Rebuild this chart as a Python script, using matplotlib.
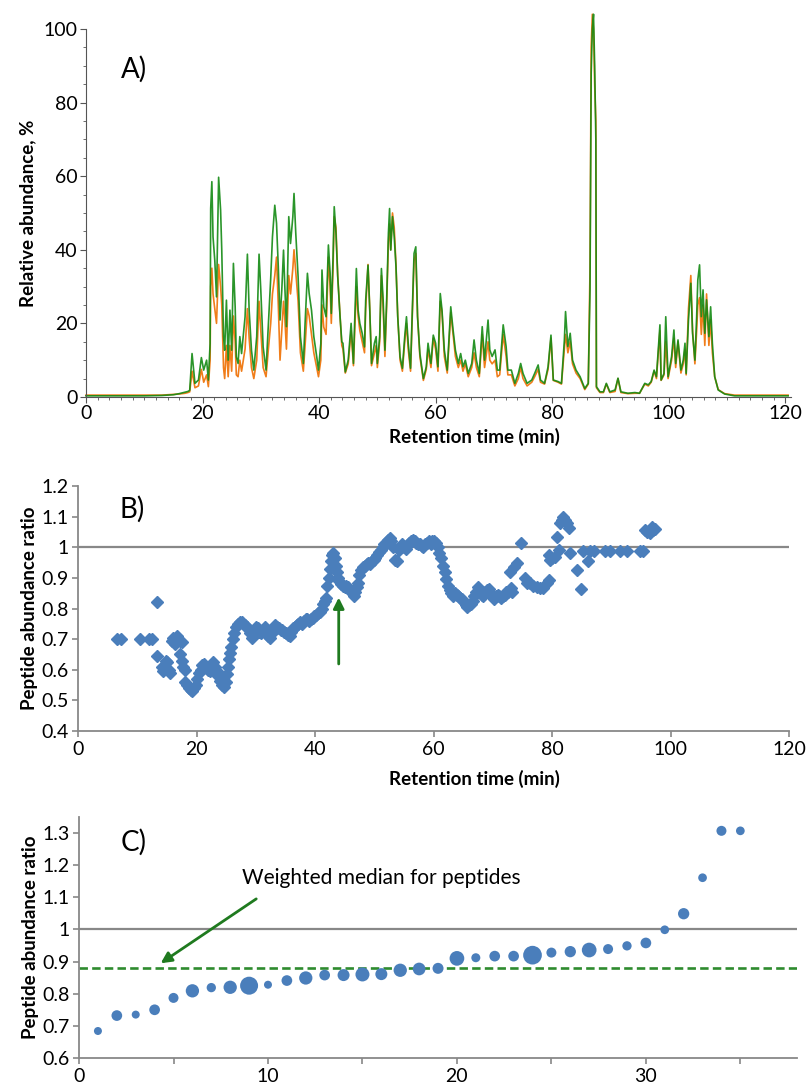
import matplotlib
matplotlib.use('Agg')
import matplotlib.pyplot as plt
from matplotlib.ticker import MultipleLocator, FuncFormatter

plt.rcParams['font.family'] = ['Lato', 'DejaVu Sans']

# A) chromatogram: retention time (min), relative abundance (%) for two runs
a_time = [0, 5, 10, 13, 15, 16, 17, 17.5, 17.8, 18.2, 18.7, 19.3, 19.8, 20.2, 20.7, 21.0, 21.3, 21.4, 21.6, 21.8,
          22.1, 22.4, 22.76, 23.1, 23.3, 23.6, 23.8, 24.1, 24.4, 24.7, 25.0, 25.3, 25.6, 25.8, 26.1, 26.4, 26.7,
          27.3, 27.7, 28.0, 28.4, 28.8, 29.3, 29.7, 30.0, 30.4, 30.9, 31.3, 31.7, 32.0, 32.4, 32.7, 33.0, 33.3,
          33.6, 33.9, 34.1, 34.4, 34.8, 35.1, 35.5, 35.7, 36.0, 36.4, 36.8, 37.3, 37.6, 38.0, 38.3, 38.7, 39.1,
          39.6, 39.9, 40.3, 40.5, 40.8, 41.2, 41.6, 41.9, 42.1, 42.4, 42.6, 42.9, 43.2, 43.6, 43.9, 44.1, 44.5,
          45.0, 45.5, 45.9, 46.1, 46.4, 46.7, 47.0, 47.4, 47.8, 48.0, 48.4, 48.7, 49.0, 49.5, 49.8, 50.0, 50.4,
          50.7, 51.0, 51.3, 51.6, 51.9, 52.1, 52.3, 52.6, 52.9, 53.2, 53.5, 53.9, 54.3, 54.7, 55.0, 55.3, 55.7,
          56.0, 56.3, 56.6, 56.9, 57.3, 57.9, 58.4, 58.7, 59.2, 59.6, 60.0, 60.4, 60.8, 61.1, 61.5, 62.0, 62.6,
          63.0, 63.4, 63.9, 64.3, 64.7, 65.1, 65.6, 66.2, 66.6, 67.0, 67.5, 68.0, 68.4, 69.0, 69.3, 69.7, 70.2,
          70.6, 71.0, 71.6, 72.1, 72.4, 73.0, 73.6, 74.2, 74.6, 75.0, 75.7, 76.5, 77.0, 77.6, 78.0, 78.7, 79.3,
          79.8, 80.2, 81.0, 81.6, 82.1, 82.3, 82.7, 83.1, 83.5, 84.1, 84.8, 85.6, 86.2, 86.5, 86.7, 86.9, 87.1,
          87.3, 87.5, 87.6, 88.2, 88.8, 89.3, 89.9, 90.8, 91.3, 91.8, 93.0, 94.2, 95.0, 95.9, 96.5, 97.0, 97.5,
          97.9, 98.5, 98.7, 99.2, 99.5, 99.9, 100.5, 100.9, 101.2, 101.6, 102.1, 102.5, 102.8, 103.0, 103.4,
          103.8, 104.1, 104.5, 104.8, 105.0, 105.3, 105.6, 105.9, 106.2, 106.5, 106.9, 107.2, 107.5, 107.9,
          108.5, 109.6, 111.3, 115, 120.5]
a_green = [0.3, 0.3, 0.3, 0.4, 0.6, 0.9, 1.3, 1.5, 1.8, 11.8, 3.7, 4.6, 10.7, 7.3, 10.0, 4.6, 14.5, 51.2, 58.5, 43.5,
           37.2, 27.2, 59.7, 50.8, 39.9, 16.4, 12.7, 26.3, 10.0, 23.6, 12.7, 36.3, 24.5, 10.9, 9.1, 16.4, 11.8,
           21.8, 38.8, 23.6, 12.7, 7.3, 16.4, 38.8, 29.0, 13.6, 7.3, 20.0, 32.2, 43.5, 52.1, 47.2, 35.4, 20.9,
           29.0, 39.9, 30.9, 19.1, 49.0, 41.7, 49.0, 55.3, 44.5, 32.7, 16.4, 9.1, 20.0, 33.6, 28.1, 23.6, 16.4,
           10.9, 7.3, 14.5, 34.5, 24.5, 21.8, 41.3, 33.6, 22.7, 38.1, 51.7, 44.5, 32.7, 21.8, 15.0, 14.6, 6.8,
           10.0, 20.0, 9.1, 20.0, 34.9, 23.6, 20.0, 17.3, 13.6, 26.3, 35.8, 23.6, 9.1, 14.6, 16.4, 9.1, 16.4,
           34.9, 26.3, 12.7, 26.3, 44.5, 51.2, 39.9, 49.0, 43.5, 35.4, 21.8, 10.9, 7.8, 16.4, 21.8, 14.6, 7.8,
           23.6, 39.0, 40.8, 21.8, 11.8, 5.0, 8.2, 14.6, 9.1, 16.8, 14.6, 8.2, 28.1, 23.6, 12.7, 7.3, 24.5,
           18.2, 12.7, 9.1, 11.8, 8.2, 10.0, 6.4, 9.1, 15.5, 10.0, 6.4, 19.1, 10.0, 20.9, 12.8, 11.0, 12.8,
           7.3, 7.3, 19.6, 13.7, 7.3, 7.3, 3.7, 6.4, 9.1, 6.4, 3.7, 4.6, 6.4, 8.7, 4.6, 3.7, 8.2,
           16.8, 4.6, 4.2, 3.7, 15.5, 23.2, 13.7, 17.3, 10.0, 7.3, 5.5, 2.3, 3.7, 29.0, 88.0, 100.0, 104.0,
           90.0, 70.0, 2.8, 1.4, 1.4, 3.7, 1.4, 1.9, 5.1, 1.4, 1.0, 1.2, 1.0, 3.7, 3.3, 4.2, 7.3,
           5.5, 19.6, 4.6, 6.4, 21.8, 5.5, 11.0, 18.2, 9.1, 15.5, 7.3, 10.0, 14.6, 6.4, 20.9,
           30.9, 17.3, 10.0, 21.8, 31.8, 35.9, 21.8, 29.1, 17.3, 26.4, 16.4, 24.5, 14.6, 5.5,
           1.9, 0.8, 0.3, 0.3, 0.3]
a_orange = [0.5, 0.5, 0.5, 0.5, 0.7, 0.8, 1.0, 1.2, 1.4, 7.0, 2.5, 3.0, 7.5, 4.0, 6.0, 2.8, 10.0, 30.0, 35.0, 28.0,
            24.0, 20.0, 36.0, 30.0, 25.0, 8.0, 5.0, 14.0, 5.5, 14.0, 7.0, 22.0, 15.0, 6.0, 5.5, 10.0, 7.0,
            13.0, 24.0, 16.0, 8.0, 5.0, 10.0, 26.0, 18.0, 8.0, 5.5, 13.0, 20.0, 28.0, 33.0, 38.0, 25.0, 10.0,
            18.0, 26.0, 22.0, 13.0, 33.0, 28.0, 35.0, 40.0, 34.0, 26.0, 12.0, 7.0, 14.0, 24.0, 22.0, 17.0, 12.0,
            8.0, 5.5, 10.0, 25.0, 19.0, 17.0, 38.0, 30.0, 20.0, 35.0, 49.0, 46.0, 33.0, 22.0, 14.0, 13.0, 6.5,
            9.0, 18.0, 8.5, 17.0, 30.0, 22.0, 18.0, 15.0, 12.0, 24.0, 36.0, 24.0, 8.5, 12.0, 14.0, 8.0, 15.0,
            33.0, 24.0, 11.0, 25.0, 42.0, 47.0, 40.0, 50.0, 46.0, 36.0, 22.0, 10.0, 7.0, 15.0, 20.0, 13.0, 7.0,
            22.0, 37.0, 39.0, 22.0, 11.0, 4.5, 7.5, 13.0, 8.0, 16.0, 13.0, 7.0, 26.0, 23.0, 11.0, 6.5, 23.0,
            17.0, 11.0, 8.0, 10.0, 7.0, 9.0, 5.5, 8.0, 12.0, 8.0, 5.5, 17.0, 8.0, 15.0, 10.0, 9.0, 10.0,
            5.5, 6.0, 17.0, 11.0, 6.0, 6.0, 3.0, 5.0, 8.0, 5.0, 3.0, 4.0, 5.5, 7.5, 4.0, 3.5, 7.5,
            16.0, 4.5, 4.0, 3.5, 13.0, 17.0, 12.0, 15.0, 9.0, 6.5, 5.0, 2.0, 3.5, 35.0, 95.0, 104.0, 100.0,
            85.0, 75.0, 2.5, 1.2, 1.2, 3.5, 1.2, 1.5, 5.0, 1.2, 0.9, 1.0, 1.0, 3.5, 3.0, 4.0, 7.0,
            5.0, 18.0, 4.5, 6.0, 15.0, 5.0, 10.0, 16.0, 8.0, 15.0, 6.5, 9.0, 13.0, 6.0, 24.0,
            33.0, 18.0, 9.0, 18.0, 25.0, 27.0, 17.0, 25.0, 14.0, 28.0, 14.0, 21.0, 12.0, 5.5,
            2.0, 0.9, 0.5, 0.5, 0.5]

# B) peptide abundance ratio vs retention time
b_time = [6.5, 7.3, 10.5, 12.0, 12.5, 13.3, 13.3, 14.1, 14.4, 14.8, 15.0, 15.3, 15.6, 15.8, 16.1, 16.4, 16.7,
          16.9, 17.2, 17.5, 17.2, 17.5, 17.8, 18.1, 18.1, 18.4, 18.7, 19.0, 19.3, 19.6, 19.9, 20.1, 20.4, 20.7,
          21.0, 21.3, 21.6, 21.9, 22.2, 22.5, 22.8, 23.1, 23.4, 23.7, 24.0, 24.3, 24.6, 24.9, 25.1, 25.3, 25.5,
          25.7, 25.9, 26.1, 26.4, 26.7, 27.0, 27.3, 27.6, 27.9, 28.2, 28.5, 28.8, 29.1, 29.4, 29.7, 30.0, 30.3,
          30.6, 30.9, 31.2, 31.5, 31.8, 32.1, 32.4, 32.7, 33.0, 33.3, 33.6, 33.9, 34.2, 34.5, 34.8, 35.1, 35.4,
          35.7, 36.0, 36.3, 36.6, 36.9, 37.2, 37.5, 37.8, 38.1, 38.4, 38.7, 39.0, 39.3, 39.6, 39.9, 40.2, 40.5,
          40.8, 41.1, 41.4, 41.7, 41.9, 42.0, 42.3, 42.5, 42.7, 42.9, 43.1, 43.3, 43.5, 43.7, 43.9, 44.1, 44.4,
          44.7, 45.0, 45.3, 45.6, 45.9, 46.2, 46.5, 46.8, 47.0, 47.2, 47.5, 47.8, 48.1, 48.4, 48.7, 49.0, 49.3,
          49.6, 49.9, 50.2, 50.5, 50.8, 51.1, 51.4, 51.7, 52.0, 52.3, 52.6, 52.9, 53.2, 53.5, 53.8, 54.1, 54.4,
          54.7, 55.0, 55.3, 55.6, 55.9, 56.2, 56.5, 56.8, 57.1, 57.4, 57.7, 58.0, 58.3, 58.6, 58.9, 59.2, 59.5,
          59.8, 60.1, 60.4, 60.7, 61.0, 61.3, 61.6, 61.9, 62.1, 62.4, 62.7, 63.0, 63.3, 63.6, 63.9, 64.2, 64.5,
          64.8, 65.1, 65.4, 65.7, 66.0, 66.3, 66.6, 66.9, 67.2, 67.5, 67.8, 68.1, 68.4, 68.7, 69.0, 69.3, 69.6,
          69.9, 70.2, 70.5, 70.8, 71.1, 71.4, 71.7, 72.0, 72.3, 72.6, 73.0, 73.3, 72.9, 73.5, 74.0, 74.8, 75.4,
          75.8, 76.3, 76.8, 77.4, 77.9, 78.5, 79.1, 79.4, 79.4, 79.7, 80.0, 80.5, 80.8, 81.1, 81.4, 81.7, 81.9,
          82.2, 82.5, 82.8, 83.0, 84.2, 84.8, 85.3, 86.0, 86.4, 87.1, 88.9, 89.8, 91.5, 92.6, 94.9, 95.4, 95.7,
          96.1, 96.5, 96.8, 97.1, 97.4]
b_ratio = [0.70, 0.70, 0.70, 0.70, 0.70, 0.82, 0.645, 0.61, 0.595, 0.63, 0.625, 0.60, 0.59, 0.695, 0.705, 0.685,
           0.71, 0.70, 0.695, 0.69, 0.65, 0.63, 0.61, 0.60, 0.56, 0.55, 0.54, 0.535, 0.53, 0.54, 0.55, 0.57,
           0.59, 0.60, 0.615, 0.62, 0.61, 0.60, 0.595, 0.61, 0.625, 0.61, 0.595, 0.58, 0.565, 0.55, 0.545, 0.56,
           0.585, 0.61, 0.635, 0.655, 0.675, 0.70, 0.72, 0.74, 0.75, 0.755, 0.755, 0.75, 0.745, 0.74, 0.73, 0.72,
           0.705, 0.72, 0.74, 0.735, 0.725, 0.72, 0.73, 0.74, 0.725, 0.71, 0.705, 0.72, 0.735, 0.745, 0.74, 0.735,
           0.73, 0.73, 0.725, 0.72, 0.715, 0.71, 0.725, 0.735, 0.74, 0.745, 0.75, 0.755, 0.75, 0.76, 0.765, 0.765,
           0.76, 0.765, 0.77, 0.775, 0.78, 0.785, 0.79, 0.80, 0.815, 0.825, 0.835, 0.875, 0.90, 0.93, 0.955, 0.975,
           0.98, 0.965, 0.94, 0.92, 0.90, 0.89, 0.88, 0.875, 0.87, 0.875, 0.87, 0.86, 0.85, 0.84, 0.855, 0.87,
           0.885, 0.91, 0.925, 0.935, 0.94, 0.945, 0.95, 0.945, 0.955, 0.96, 0.965, 0.975, 0.985, 0.99, 1.00,
           1.01, 1.015, 1.025, 1.03, 1.02, 1.00, 0.96, 0.955, 0.99, 1.00, 1.01, 1.00, 0.995, 1.005, 1.015, 1.02,
           1.025, 1.02, 1.015, 1.01, 1.01, 1.005, 1.00, 1.01, 1.015, 1.02, 1.01, 1.02, 1.02, 1.015, 1.00, 0.98,
           0.965, 0.94, 0.92, 0.895, 0.875, 0.86, 0.85, 0.84, 0.85, 0.845, 0.84, 0.835, 0.83, 0.82, 0.81, 0.805,
           0.81, 0.815, 0.825, 0.84, 0.855, 0.87, 0.86, 0.845, 0.84, 0.855, 0.86, 0.865, 0.85, 0.84, 0.83, 0.84,
           0.845, 0.84, 0.835, 0.84, 0.845, 0.855, 0.855, 0.866, 0.855, 0.92, 0.937, 0.948, 1.015, 0.90, 0.885,
           0.882, 0.875, 0.871, 0.868, 0.866, 0.885, 0.893, 0.975, 0.96, 0.964, 0.969, 1.035, 0.991, 1.078, 1.09,
           1.10, 1.09, 1.078, 1.062, 0.983, 0.926, 0.865, 0.989, 0.956, 0.989, 0.989, 0.989, 0.989, 0.989, 0.989,
           0.989, 0.989, 1.056, 1.05, 1.046, 1.067, 1.055, 1.059]

# C) sorted peptide ratios with relative weights (marker size)
c_rank = list(range(1, 36))
c_ratio = [0.684, 0.732, 0.735, 0.750, 0.787, 0.809, 0.819, 0.820, 0.825, 0.828, 0.841, 0.849, 0.858, 0.858, 0.860,
           0.861, 0.873, 0.877, 0.879, 0.910, 0.912, 0.917, 0.917, 0.920, 0.928, 0.931, 0.936, 0.939, 0.949, 0.958,
           0.999, 1.049, 1.161, 1.307, 1.307]
c_weight = [8, 10.7, 8, 10.7, 10, 13.3, 9.3, 13.3, 18, 8, 10.7, 13.3, 10.7, 12, 14,
            12, 13.3, 12.7, 11, 14.7, 9, 10.7, 10.7, 18.7, 10, 11.3, 14.7, 10, 9.3, 10.7,
            8.7, 11.3, 8.7, 10, 8.7]
c_median = 0.879

blue = '#4A7EBB'
green = '#1F7A1F'
grey = '#888888'
tick_fs = 14
lab_fs = 13.5

fig = plt.figure(figsize=(8.09, 10.84), dpi=100)

# ---- A ----
ax = fig.add_axes([0.1063, 0.6338, 0.8715, 0.3395])
ax.plot(a_time, a_orange, color='#F07D1A', lw=1.2, clip_on=False)
ax.plot(a_time, a_green, color='#138A13', lw=1.2, alpha=0.9, clip_on=False)
ax.set_xlim(0, 121)
ax.set_ylim(0, 100)
ax.xaxis.set_major_locator(MultipleLocator(20))
ax.xaxis.set_minor_locator(MultipleLocator(2))
ax.yaxis.set_major_locator(MultipleLocator(20))
ax.yaxis.set_minor_locator(MultipleLocator(5))
for s in ['top', 'right']:
    ax.spines[s].set_visible(False)
for s in ['left', 'bottom']:
    ax.spines[s].set_color('#555555')
ax.tick_params(which='major', length=4, color='#555555', labelsize=tick_fs, pad=2)
ax.tick_params(which='minor', length=2.5, color='#555555')
ax.set_xlabel('Retention time (min)', fontsize=lab_fs, fontweight='bold')
ax.xaxis.set_label_coords(0.551, -0.085)
ax.set_ylabel('Relative abundance, %', fontsize=lab_fs, fontweight='bold', labelpad=5)
ax.text(6, 89, 'A)', fontsize=20, va='center')

fmt = FuncFormatter(lambda v, p: '%g' % round(v, 2))

# ---- B ----
bx = fig.add_axes([0.0964, 0.3256, 0.879, 0.226])
bx.axhline(1.0, color=grey, lw=1.6, zorder=1)
bx.plot(b_time, b_ratio, linestyle='none', marker='D', ms=6.5, color=blue, mec=blue, zorder=2)
bx.annotate('', xy=(44, 0.845), xytext=(44, 0.61),
            arrowprops=dict(arrowstyle='-|>', color=green, lw=2, mutation_scale=16))
bx.set_xlim(0, 120)
bx.set_ylim(0.4, 1.2)
bx.xaxis.set_major_locator(MultipleLocator(20))
bx.yaxis.set_major_locator(MultipleLocator(0.1))
bx.yaxis.set_major_formatter(fmt)
for s in ['top', 'right']:
    bx.spines[s].set_visible(False)
for s in ['left', 'bottom']:
    bx.spines[s].set_color(grey)
    bx.spines[s].set_linewidth(1.3)
bx.tick_params(length=4, color=grey, width=1.2, labelsize=tick_fs, pad=3)
bx.set_xlabel('Retention time (min)', fontsize=lab_fs, fontweight='bold')
bx.xaxis.set_label_coords(0.558, -0.16)
bx.set_ylabel('Peptide abundance ratio', fontsize=lab_fs, fontweight='bold', labelpad=2)
bx.text(7.0, 1.125, 'B)', fontsize=20, va='center')

# ---- C ----
cx = fig.add_axes([0.0977, 0.024, 0.8875, 0.2223])
cx.axhline(1.0, color=grey, lw=1.6, zorder=1)
cx.axhline(c_median, color='#2E8B2E', lw=1.9, dashes=(3.2, 1.6), zorder=1)
cx.scatter(c_rank, c_ratio, s=[(w * 0.72) ** 2 for w in c_weight], color=blue, lw=0, zorder=3)
cx.annotate('', xy=(4.2, 0.89), xytext=(9.5, 1.1),
            arrowprops=dict(arrowstyle='-|>', color=green, lw=2, mutation_scale=16))
cx.text(8.6, 1.16, 'Weighted median for peptides', fontsize=15, va='center')
cx.text(2.2, 1.27, 'C)', fontsize=20, va='center')
cx.set_xlim(0, 38)
cx.set_ylim(0.6, 1.35)
cx.xaxis.set_major_locator(MultipleLocator(10))
cx.xaxis.set_minor_locator(MultipleLocator(5))
cx.yaxis.set_major_locator(MultipleLocator(0.1))
cx.yaxis.set_major_formatter(fmt)
for s in ['top', 'right']:
    cx.spines[s].set_visible(False)
for s in ['left', 'bottom']:
    cx.spines[s].set_color(grey)
    cx.spines[s].set_linewidth(1.3)
cx.tick_params(which='both', length=4, color=grey, width=1.2, labelsize=tick_fs, pad=3)
cx.set_ylabel('Peptide abundance ratio', fontsize=lab_fs, fontweight='bold', labelpad=2)

fig.savefig('out.png', dpi=100)
